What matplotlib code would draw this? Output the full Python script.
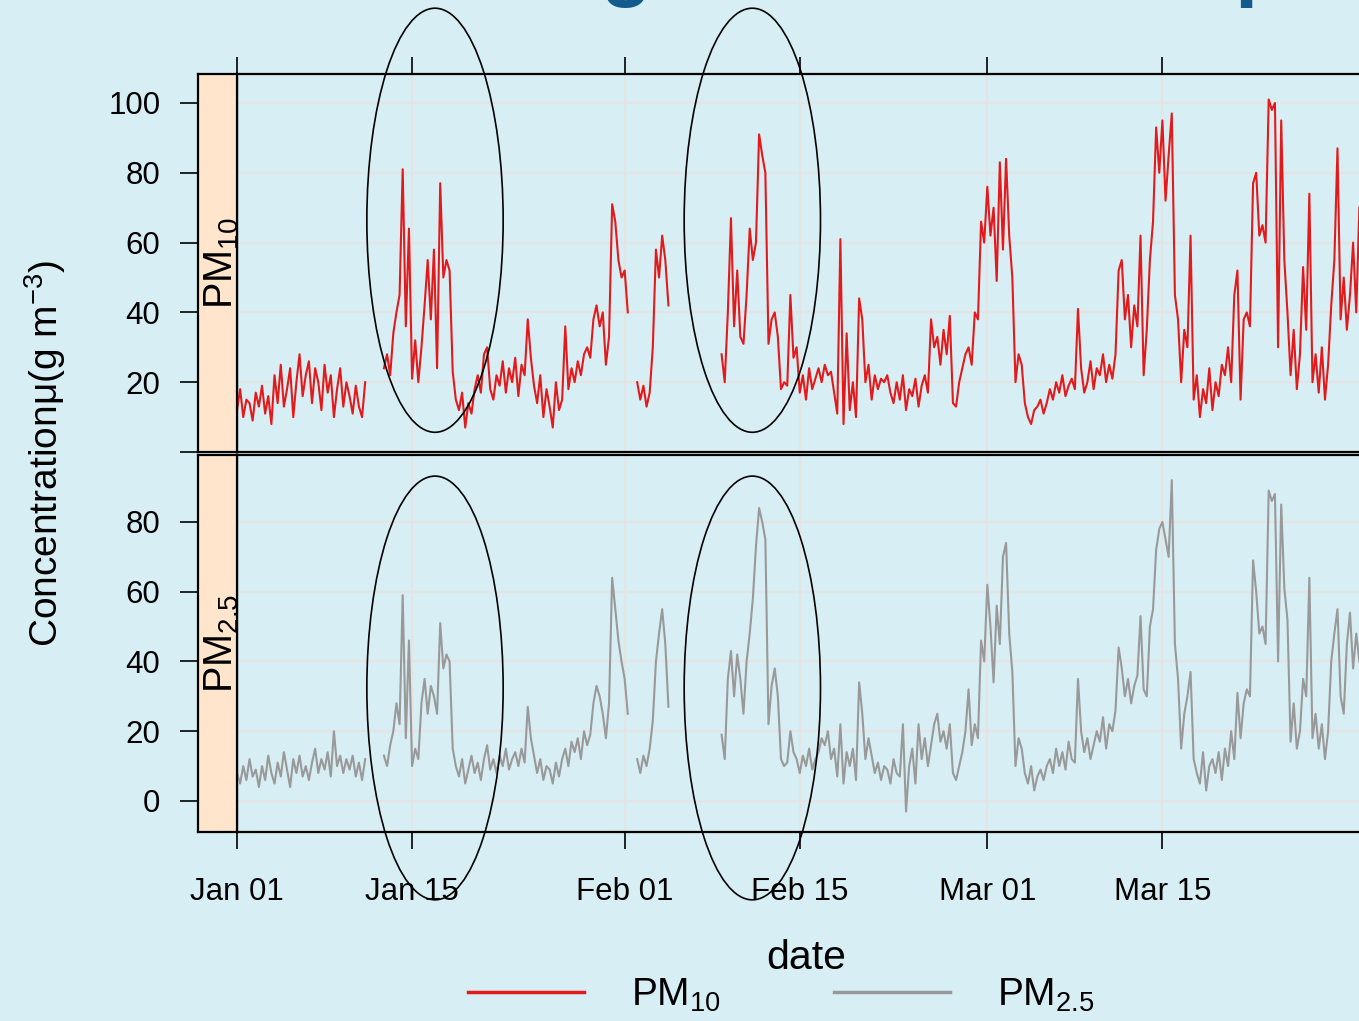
import numpy as np
import pandas as pd
import matplotlib
matplotlib.use("Agg")
import matplotlib.pyplot as plt
import matplotlib.dates as mdates
from matplotlib.patches import Ellipse
from matplotlib.lines import Line2D

plt.rcParams['font.family'] = ['Liberation Sans', 'DejaVu Sans']
plt.rcParams['mathtext.fontset'] = 'custom'
plt.rcParams['mathtext.rm'] = 'Liberation Sans'
plt.rcParams['mathtext.it'] = 'Liberation Sans:italic'
plt.rcParams['mathtext.default'] = 'regular'

nan = np.nan

# 6-hourly readings, one row per day (00, 06, 12, 18h)
pm10 = [
    12, 18, 10, 15,  14, 9, 17, 13,  19, 11, 16, 8,  22, 14, 25, 13,
    18, 24, 10, 20,  28, 16, 22, 26,  14, 24, 20, 12,  25, 17, 22, 10,
    18, 24, 13, 20,  16, 11, 19, 13,  10, 20, nan, nan,  nan, nan, nan, 24,
    28, 22, 34, 40,  45, 81, 36, 64,  21, 32, 20, 30,  42, 55, 38, 58,
    24, 77, 50, 55,  52, 23, 15, 12,  17, 7, 14, 11,  18, 22, 17, 28,
    30, 18, 15, 22,  19, 26, 17, 24,  20, 27, 16, 25,  22, 38, 27, 19,
    14, 22, 10, 18,  13, 7, 20, 12,  15, 36, 18, 24,  20, 26, 22, 28,
    30, 27, 38, 42,  36, 40, 25, 33,  71, 66, 55, 50,  52, 40, nan, nan,
    20, 15, 19, 13,  17, 30, 58, 50,  62, 55, 42, nan,  nan, nan, nan, nan,
    nan, nan, nan, nan,  nan, nan, nan, nan,  nan, nan, nan, 28,  20, 40, 67, 36,
    52, 33, 31, 45,  64, 55, 60, 91,  85, 80, 31, 38,  40, 33, 18, 20,
    19, 45, 27, 30,  17, 22, 15, 24,  18, 21, 24, 20,  25, 22, 23, 17,
    11, 61, 8, 34,  12, 20, 10, 44,  38, 20, 25, 15,  22, 18, 21, 20,
    22, 17, 14, 20,  15, 22, 12, 18,  16, 21, 13, 19,  22, 17, 38, 30,
    33, 25, 35, 28,  39, 14, 13, 20,  24, 28, 30, 25,  40, 38, 66, 60,
    76, 62, 70, 49,  83, 58, 84, 62,  50, 20, 28, 25,  14, 10, 8, 12,
    13, 15, 11, 14,  18, 15, 20, 17,  22, 16, 19, 21,  18, 41, 24, 17,
    20, 26, 18, 24,  22, 28, 20, 25,  21, 28, 52, 55,  38, 45, 30, 42,
    36, 62, 22, 35,  55, 66, 93, 80,  95, 72, 85, 97,  45, 38, 20, 35,
    30, 62, 15, 22,  10, 18, 14, 24,  12, 20, 16, 25,  22, 30, 20, 45,
    52, 15, 38, 40,  36, 77, 80, 62,  65, 60, 101, 98,  100, 30, 95, 55,
    40, 22, 35, 18,  28, 53, 35, 74,  20, 28, 17, 30,  15, 25, 42, 55,
    87, 38, 50, 35,  45, 60, 40, 70,
]

pm25 = [
    8, 5, 10, 6,  12, 7, 9, 4,  10, 6, 13, 8,  5, 11, 7, 14,
    9, 4, 12, 8,  13, 7, 10, 6,  11, 15, 8, 12,  9, 14, 7, 20,
    10, 13, 8, 12,  9, 13, 7, 11,  6, 12, nan, nan,  nan, nan, nan, 13,
    10, 16, 20, 28,  22, 59, 18, 46,  10, 15, 12, 28,  35, 25, 33, 30,
    25, 51, 38, 42,  40, 15, 10, 7,  12, 5, 9, 13,  8, 11, 6, 12,
    16, 9, 12, 8,  13, 10, 15, 9,  12, 14, 10, 15,  11, 27, 18, 13,
    8, 12, 6, 10,  9, 5, 11, 7,  12, 15, 10, 17,  14, 18, 12, 20,
    16, 19, 28, 33,  30, 25, 18, 28,  64, 55, 46, 40,  35, 25, nan, nan,
    12, 8, 13, 10,  15, 23, 40, 48,  55, 45, 27, nan,  nan, nan, nan, nan,
    nan, nan, nan, nan,  nan, nan, nan, nan,  nan, nan, nan, 19,  12, 35, 43, 30,
    42, 35, 25, 40,  48, 58, 73, 84,  80, 75, 22, 33,  38, 30, 12, 10,
    11, 20, 14, 12,  8, 13, 10, 15,  9, 12, 14, 18,  16, 20, 12, 15,
    7, 22, 5, 14,  10, 15, 6, 34,  25, 12, 18, 13,  8, 11, 6, 10,
    9, 5, 12, 8,  7, 22, -3, 10,  15, 5, 22, 12,  18, 10, 16, 22,
    25, 17, 20, 15,  22, 8, 6, 10,  14, 20, 32, 16,  22, 18, 46, 40,
    62, 50, 34, 56,  45, 70, 74, 48,  37, 10, 18, 15,  8, 5, 10, 3,
    7, 9, 6, 10,  12, 8, 15, 10,  14, 9, 17, 12,  11, 35, 20, 14,
    18, 12, 16, 20,  17, 24, 15, 22,  20, 26, 44, 38,  30, 35, 28, 33,
    36, 53, 32, 30,  50, 55, 72, 78,  80, 75, 70, 92,  45, 35, 15, 25,
    30, 37, 12, 8,  5, 14, 3, 10,  12, 8, 14, 6,  15, 10, 20, 12,
    31, 18, 28, 32,  30, 69, 60, 48,  50, 45, 89, 86,  88, 40, 85, 61,
    52, 17, 28, 15,  20, 35, 30, 64,  18, 25, 15, 22,  12, 20, 40, 48,
    55, 30, 25, 45,  54, 38, 48, 40,
]

tick_dates = ['2004-01-01', '2004-01-15', '2004-02-01', '2004-02-15',
              '2004-03-01', '2004-03-15']
# highlighted episodes: centre date, width (days)
episode_centres = ['2004-01-16 20:00', '2004-02-11 05:00']
episode_width = 10.9

BG = '#d7eff4'
STRIP = '#ffe5cc'
RED = '#e31a1c'
GREY = '#999999'
GRID = '#e4e4e4'
TITLE = '#135b8c'

dates = pd.date_range('2004-01-01', periods=len(pm10), freq='6h')

W, H = 1359, 1021
fig = plt.figure(figsize=(W / 100, H / 100), dpi=100, facecolor=BG)


def box(l, t, r, b):
    return [l / W, 1 - b / H, (r - l) / W, (b - t) / H]


panels = [
    (pm10, RED, 'PM$_{10}$', (0, 108.3), [0, 20, 40, 60, 80, 100],
     ['', '20', '40', '60', '80', '100'], 74, 452, 66.4),
    (pm25, GREY, 'PM$_{2.5}$', (-8.9, 99.2), [0, 20, 40, 60, 80],
     ['0', '20', '40', '60', '80'], 455, 832, 32.4),
]

xt = [mdates.date2num(pd.Timestamp(d)) for d in tick_dates]

for i, (vals, col, lab, ylim, yt, ytl, top, bot, ecy) in enumerate(panels):
    ax = fig.add_axes(box(237, top, 1375, bot))
    st = fig.add_axes(box(198, top, 237, bot))

    ax.set_facecolor(BG)
    ax.plot(dates, vals, color=col, lw=1.5, zorder=3)
    ax.set_xlim(pd.Timestamp('2004-01-01'), pd.Timestamp('2004-04-01'))
    ax.set_ylim(*ylim)
    ax.set_yticks(yt)
    ax.tick_params(axis='y', length=0, labelleft=False)
    ax.set_xticks(xt)
    ax.xaxis.set_major_formatter(mdates.DateFormatter('%b %d'))
    ax.grid(True, color=GRID, lw=1.6, zorder=0)
    ax.set_axisbelow(True)
    for s in ax.spines.values():
        s.set_linewidth(1.6)
    if i == 0:
        ax.xaxis.tick_top()
        ax.tick_params(axis='x', length=12.5, width=1.2, labeltop=False)
    else:
        ax.tick_params(axis='x', length=12.5, width=1.2, pad=20, labelsize=22.5)

    for c in episode_centres:
        e = Ellipse((mdates.date2num(pd.Timestamp(c)), ecy), episode_width, 121.5,
                    fill=False, ec='black', lw=1.2, clip_on=False, zorder=10)
        ax.add_patch(e)

    st.set_facecolor(STRIP)
    st.set_ylim(*ylim)
    st.set_yticks(yt)
    st.set_yticklabels(ytl)
    st.set_xticks([])
    st.tick_params(axis='y', length=13, width=1.2, pad=14, labelsize=22.5)
    for s in st.spines.values():
        s.set_linewidth(1.6)
    st.text(0.6, 0.5, lab, transform=st.transAxes, rotation=90, ha='center',
            va='center', fontsize=28.5, clip_on=False)

fig.text(45 / W, 1 - 453 / H, 'Concentrationμ(g m$^{-3}$)', rotation=90,
         ha='center', va='center', fontsize=28)
fig.text(806 / W, 1 - 958 / H, 'date', ha='center', va='center', fontsize=29.5)

handles = [Line2D([], [], color=RED, lw=2.5), Line2D([], [], color=GREY, lw=2.5)]
fig.legend(handles, ['PM$_{10}$', 'PM$_{2.5}$'], ncol=2, frameon=False,
           loc='center', bbox_to_anchor=(781 / W, 1 - 995 / H), fontsize=28,
           handlelength=3.0, handletextpad=1.2, columnspacing=2.9)

# bits of the slide title cut off at the top edge
fig.text(626 / W, 1 + 9 / H, 'g', color=TITLE, fontsize=60, fontweight='bold',
         ha='center', va='baseline')
fig.text(1234 / W, 1 + 9 / H, 'p', color=TITLE, fontsize=60, fontweight='bold',
         ha='left', va='baseline')

fig.savefig('out.png', dpi=100, facecolor=BG)
